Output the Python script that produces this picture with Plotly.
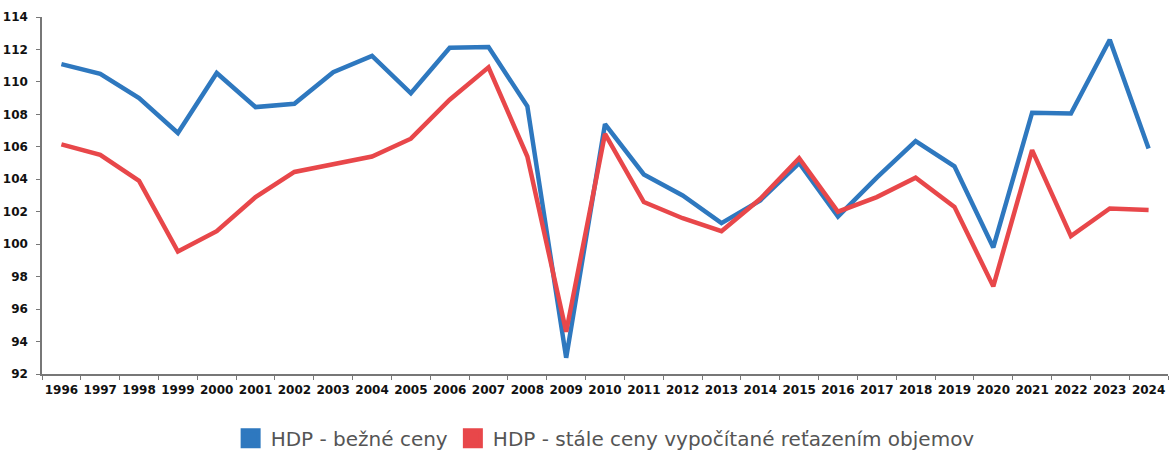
import plotly.graph_objects as go

years = [str(y) for y in range(1996, 2025)]

bezne_ceny = [111.1, 110.5, 109.0, 106.85, 110.55, 108.45, 108.65, 110.6, 111.6, 109.3,
              112.1, 112.15, 108.5, 93.0, 107.4, 104.3, 103.0, 101.3, 102.7, 105.0,
              101.7, 104.1, 106.35, 104.8, 99.8, 108.1, 108.05, 112.6, 105.9]

stale_ceny = [106.15, 105.5, 103.9, 99.55, 100.8, 102.9, 104.45, 104.9, 105.4, 106.5,
              108.9, 110.9, 105.4, 94.6, 106.8, 102.6, 101.6, 100.8, 102.8, 105.3,
              102.0, 102.9, 104.1, 102.3, 97.4, 105.8, 100.5, 102.2, 102.1]

names = ["HDP - bežné ceny", "HDP - stále ceny vypočítané reťazením objemov"]
colors = ["#2e78bf", "#e8474a"]

fig = go.Figure()
for vals, name, col in zip([bezne_ceny, stale_ceny], names, colors):
    fig.add_trace(go.Scatter(x=years, y=vals, mode="lines", name=name,
                             line=dict(color=col, width=4.5), showlegend=False))
    # square swatch for legend
    fig.add_trace(go.Scatter(x=[None], y=[None], mode="markers", name=name,
                             marker=dict(symbol="square", size=16, color=col,
                                         line=dict(color=col, width=4))))

fig.update_layout(
    width=1175, height=459,
    template="plotly_white",
    plot_bgcolor="white", paper_bgcolor="white",
    margin=dict(l=42, r=7, t=17, b=85),
    font=dict(family="DejaVu Sans", color="#111"),
    legend=dict(orientation="h", xref="container", x=0.515, xanchor="center",
                yref="container", y=0.045, yanchor="middle",
                font=dict(size=20, color="#555"), itemwidth=30, tracegroupgap=0),
)
fig.update_xaxes(type="category", range=[-0.5, len(years) - 0.5], automargin=False,
                 showgrid=False, showline=True, linecolor="#777", tickangle=0,
                 linewidth=1.5, ticks="outside", tickson="boundaries", ticklen=4,
                 ticklabelstandoff=4,
                 tickcolor="#777", tickfont=dict(size=12, weight="bold", color="#111"))
fig.update_yaxes(range=[92, 114], dtick=2, automargin=False, showgrid=False,
                 zeroline=False, showline=True, ticklabelstandoff=6,
                 linecolor="#777", linewidth=1.5, ticks="outside", ticklen=4,
                 tickcolor="#777", tickfont=dict(size=12, weight="bold", color="#111"))

fig.write_html("out.html", config={"displayModeBar": False},
               post_script="document.body.style.margin='0';")
